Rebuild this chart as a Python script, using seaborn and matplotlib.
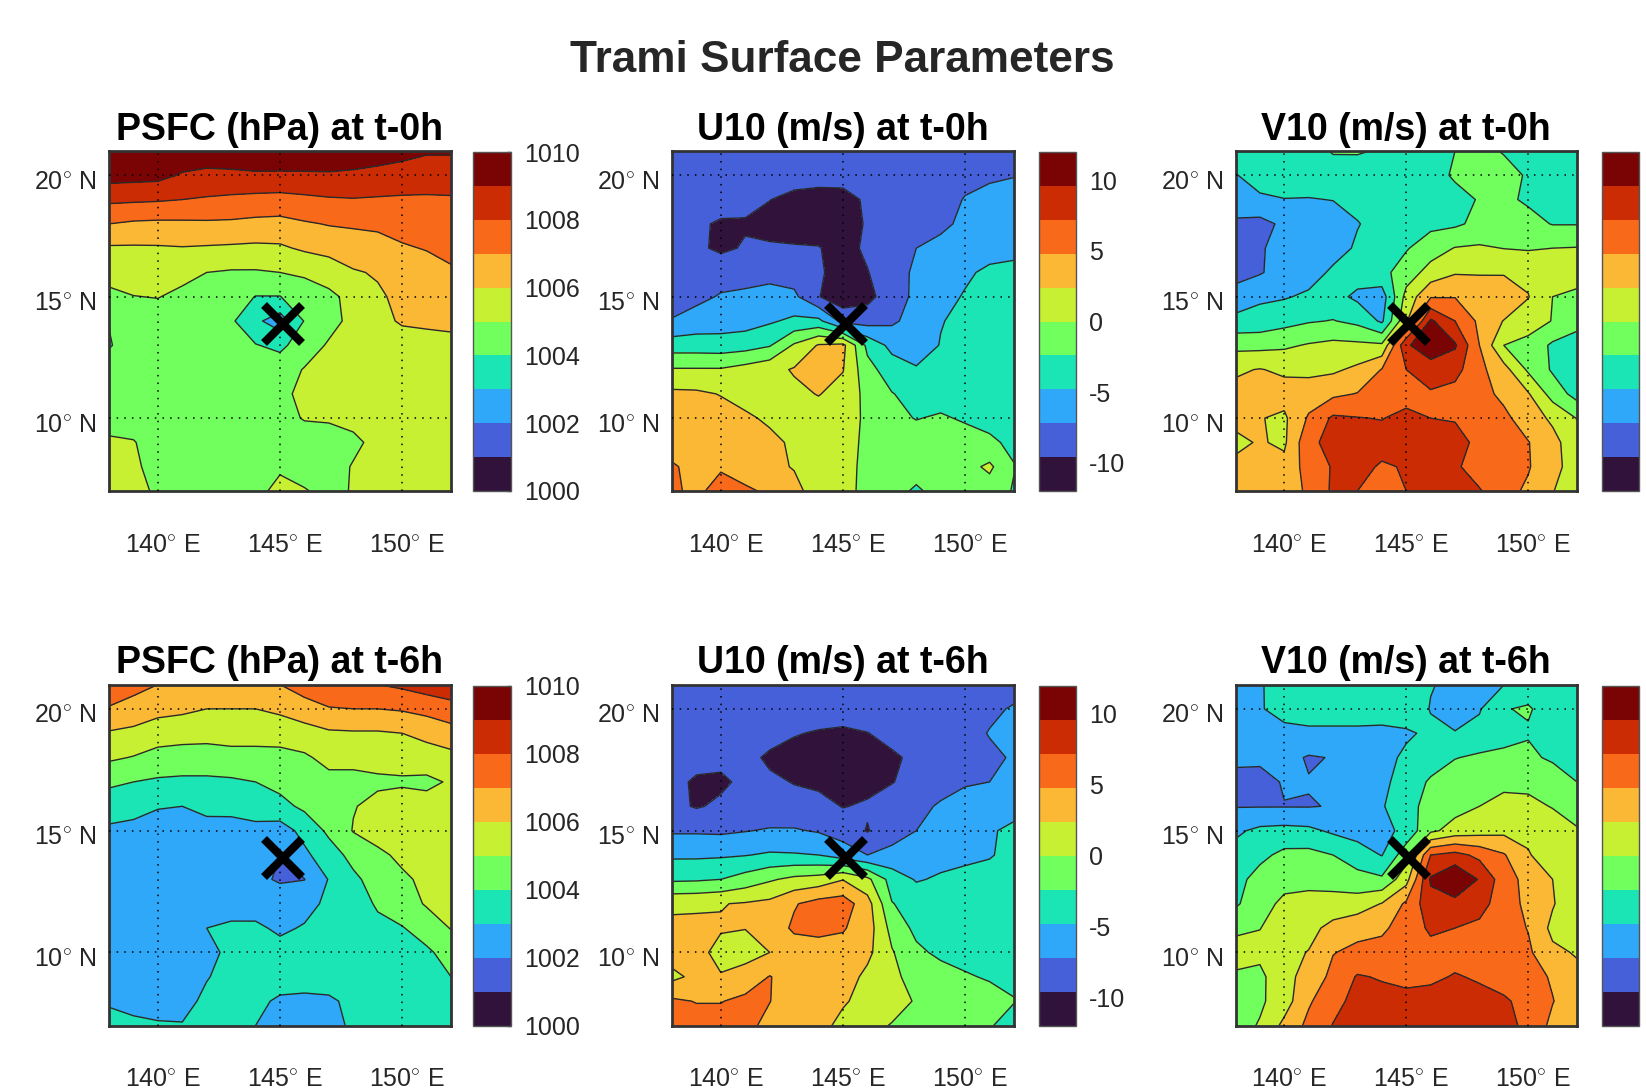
import numpy as np
import seaborn as sns
import matplotlib
matplotlib.use("Agg")
import matplotlib.pyplot as plt
from matplotlib.transforms import ScaledTranslation

# grid of the maps, 1 degree spacing
lons = [138, 139, 140, 141, 142, 143, 144, 145, 146, 147, 148, 149, 150, 151, 152]
lats = [21, 20, 19, 18, 17, 16, 15, 14, 13, 12, 11, 10, 9, 8, 7]

storm_lon = 145.12
storm_lat = 13.88

# values, rows go from 21N down to 7N
# pressure is stored as hPa above 1000
psfc_t0 = [
    [9.9, 9.9, 9.9, 9.7, 9.6, 9.6, 9.6, 9.6, 9.6, 9.6, 9.5, 9.4, 9.3, 9.1, 9.1],
    [9.4, 9.35, 9.3, 8.9, 8.75, 8.8, 8.88, 8.87, 8.88, 8.9, 8.85, 8.75, 8.6, 8.5, 8.5],
    [8.2, 8.15, 8.1, 8.0, 7.9, 7.8, 7.7, 7.65, 7.78, 7.9, 7.95, 7.9, 7.87, 7.87, 7.9],
    [7.0, 6.85, 6.8, 6.82, 6.85, 6.83, 6.74, 6.7, 6.9, 7.05, 7.1, 7.2, 7.35, 7.45, 7.55],
    [5.88, 5.88, 5.9, 5.95, 5.9, 5.85, 5.8, 5.85, 6.15, 6.4, 6.6, 6.6, 6.9, 7.05, 7.3],
    [5.3, 5.4, 5.4, 5.25, 5.0, 4.9, 4.9, 5.0, 5.1, 5.3, 5.9, 6.1, 6.55, 6.6, 6.85],
    [4.8, 4.98, 5.03, 4.8, 4.6, 4.5, 3.97, 3.97, 4.65, 4.85, 5.2, 5.85, 6.25, 6.3, 6.35],
    [4.05, 4.55, 4.6, 4.5, 4.4, 4.15, 3.2, 2.5, 4.05, 4.7, 5.25, 5.75, 6.1, 6.2, 6.25],
    [3.9, 4.6, 4.6, 4.6, 4.5, 4.35, 4.05, 3.75, 4.55, 5.1, 5.3, 5.5, 5.6, 5.6, 5.7],
    [4.6, 4.6, 4.6, 4.6, 4.6, 4.5, 4.5, 4.6, 5.05, 5.3, 5.4, 5.5, 5.5, 5.5, 5.5],
    [4.6, 4.6, 4.6, 4.6, 4.6, 4.6, 4.65, 4.8, 5.2, 5.35, 5.4, 5.4, 5.4, 5.4, 5.4],
    [4.6, 4.6, 4.6, 4.6, 4.6, 4.6, 4.6, 4.75, 5.05, 5.1, 5.2, 5.35, 5.4, 5.4, 5.4],
    [5.15, 5.05, 4.6, 4.6, 4.6, 4.6, 4.6, 4.6, 4.6, 4.6, 4.85, 5.2, 5.4, 5.4, 5.4],
    [5.4, 5.15, 4.7, 4.6, 4.6, 4.6, 4.6, 4.9, 4.7, 4.7, 5.05, 5.4, 5.4, 5.4, 5.4],
    [5.5, 5.2, 4.9, 4.8, 4.9, 4.8, 4.8, 5.2, 5.05, 4.8, 5.05, 5.4, 5.4, 5.4, 5.4],
]
u10_t0 = [
    [-8.0, -8.0, -8.0, -8.0, -8.0, -8.0, -8.0, -8.0, -8.0, -8.0, -8.0, -8.0, -8.0, -8.0, -7.8],
    [-8.0, -8.0, -8.2, -8.3, -8.4, -8.5, -8.6, -8.6, -8.4, -8.2, -8.0, -7.9, -7.7, -7.6, -7.3],
    [-8.0, -8.2, -8.5, -9.0, -9.55, -10.3, -10.6, -10.5, -9.2, -8.5, -8.2, -7.9, -7.1, -6.4, -6.2],
    [-8.2, -9.2, -9.9, -9.8, -10.4, -10.6, -10.6, -10.5, -9.4, -8.6, -8.2, -7.5, -6.9, -6.2, -6.0],
    [-8.3, -9.2, -10.0, -9.4, -9.3, -9.4, -9.5, -10.4, -9.2, -8.4, -7.2, -6.8, -6.3, -5.8, -5.5],
    [-8.2, -8.2, -8.2, -8.2, -8.0, -8.3, -9.3, -10.5, -9.7, -8.2, -6.8, -6.2, -5.2, -4.3, -4.1],
    [-8.6, -7.8, -7.0, -6.7, -6.3, -6.7, -9.5, -11.0, -10.3, -8.3, -6.7, -5.6, -4.6, -4.1, -4.0],
    [-7.0, -6.2, -6.0, -5.8, -5.1, -4.3, -4.2, -8.0, -8.2, -7.6, -6.3, -4.9, -4.3, -4.0, -3.9],
    [-3.6, -3.6, -3.7, -3.4, -2.6, 0.3, 2.6, 3.0, -3.0, -5.5, -5.9, -4.7, -4.0, -3.8, -3.7],
    [0.2, 0.2, 0.2, 0.9, 1.7, 2.6, 3.6, 2.5, -1.6, -3.6, -4.6, -4.2, -3.9, -3.7, -3.6],
    [2.9, 2.8, 2.3, 1.5, 1.6, 1.9, 2.5, 1.6, -0.7, -2.3, -3.2, -3.5, -3.5, -3.5, -3.5],
    [3.5, 3.4, 3.3, 2.8, 2.0, 1.6, 1.4, 1.0, -0.4, -1.8, -2.5, -2.1, -2.7, -3.1, -3.3],
    [3.6, 3.6, 3.7, 3.6, 3.0, 2.0, 1.4, 0.9, -0.5, -1.0, -1.2, -1.2, -1.3, -2.0, -2.9],
    [5.1, 4.0, 4.6, 3.6, 2.8, 2.3, 1.4, 0.8, -0.6, -1.0, -1.0, -0.9, -0.8, 0.45, -2.3],
    [5.1, 4.4, 5.5, 5.2, 4.4, 2.9, 1.6, 0.8, -0.7, -1.2, -2.9, -1.2, -1.0, -1.1, -2.6],
]
v10_t0 = [
    [-3.8, -3.7, -3.6, -3.4, -2.2, -2.2, -2.6, -3.0, -3.0, -2.4, -1.6, -2.6, -3.3, -3.5, -3.6],
    [-4.9, -4.0, -3.8, -3.7, -3.6, -3.5, -3.4, -3.3, -3.0, -2.2, -1.5, -1.4, -2.7, -3.2, -3.4],
    [-5.6, -5.1, -4.85, -4.9, -4.75, -4.2, -3.8, -3.4, -3.2, -2.9, -2.3, -2.0, -2.7, -3.1, -3.3],
    [-7.7, -8.0, -6.7, -6.2, -5.8, -4.9, -4.1, -3.4, -3.0, -2.8, -1.8, -1.6, -1.7, -2.5, -2.5],
    [-7.9, -7.4, -6.5, -6.0, -5.7, -4.5, -3.4, -2.6, -1.1, 0.1, 0.3, -0.05, -0.2, 0.0, 0.1],
    [-8.0, -7.4, -6.2, -5.8, -4.4, -3.7, -3.1, -1.2, 0.9, 2.2, 2.1, 2.1, 1.8, 1.0, 0.8],
    [-6.3, -5.2, -5.0, -4.4, -4.0, -5.3, -6.0, 0.8, 4.6, 4.7, 4.7, 4.6, 2.5, 0.0, -0.4],
    [-4.1, -3.9, -3.2, -2.6, -2.3, -3.0, -5.2, 2.0, 10.0, 7.2, 4.3, 2.3, 1.2, -0.1, -1.3],
    [-0.7, -0.7, -0.4, 0.2, 0.6, 0.5, 0.4, 9.3, 11.0, 9.9, 4.8, 0.0, -0.8, -2.8, -3.9],
    [2.1, 2.5, 2.0, 1.8, 2.0, 2.9, 4.9, 7.2, 8.6, 8.0, 5.4, 3.3, -0.4, -2.7, -3.8],
    [3.0, 3.2, 3.3, 3.6, 4.3, 4.9, 5.7, 6.2, 6.9, 6.4, 5.7, 4.2, 2.6, -1.0, -3.3],
    [3.0, 2.5, 2.0, 5.1, 7.6, 7.3, 7.1, 7.9, 7.2, 7.0, 6.8, 5.4, 3.5, 2.0, -0.1],
    [1.9, 2.6, 2.0, 6.6, 8.0, 8.0, 8.2, 8.5, 8.6, 8.2, 6.5, 5.3, 4.9, 3.1, 1.0],
    [2.9, 3.0, 3.1, 5.8, 7.4, 8.0, 6.9, 7.4, 8.5, 7.6, 6.0, 5.5, 5.0, 3.0, 1.5],
    [2.9, 3.1, 3.6, 5.2, 7.6, 7.2, 6.0, 7.2, 8.2, 7.8, 7.4, 5.6, 4.4, 2.5, 1.0],
]
psfc_t6 = [
    [7.4, 7.3, 7.0, 6.6, 6.5, 6.5, 6.7, 7.0, 7.5, 7.6, 7.7, 8.0, 8.2, 8.5, 8.7],
    [6.95, 6.65, 6.35, 6.2, 6.0, 6.0, 6.0, 6.2, 6.55, 6.95, 7.0, 7.0, 7.1, 7.3, 7.6],
    [5.9, 5.75, 5.4, 5.35, 5.3, 5.35, 5.35, 5.4, 5.6, 5.85, 5.9, 5.9, 6.0, 6.3, 6.6],
    [5.15, 4.95, 4.7, 4.6, 4.6, 4.7, 4.7, 4.7, 4.85, 5.3, 5.2, 5.3, 5.3, 5.5, 5.7],
    [4.2, 4.0, 3.85, 3.8, 3.8, 3.85, 4.0, 4.3, 4.55, 4.7, 4.8, 4.85, 4.9, 4.8, 5.1],
    [3.4, 3.3, 3.05, 3.0, 3.25, 3.3, 3.5, 3.7, 4.2, 4.6, 4.95, 5.25, 5.35, 5.35, 5.4],
    [2.85, 2.75, 2.65, 2.65, 2.65, 2.6, 2.7, 2.55, 3.3, 4.2, 5.05, 5.5, 5.6, 5.6, 5.6],
    [2.5, 2.5, 2.5, 2.5, 2.5, 2.5, 2.5, 2.0, 2.8, 3.55, 4.3, 4.75, 5.25, 5.3, 5.5],
    [2.5, 2.5, 2.5, 2.5, 2.5, 2.5, 2.2, 1.9, 1.98, 3.05, 3.8, 4.4, 4.8, 5.25, 5.5],
    [2.5, 2.5, 2.5, 2.5, 2.5, 2.5, 2.5, 2.5, 2.6, 3.25, 3.6, 4.1, 4.5, 5.1, 5.3],
    [2.5, 2.5, 2.5, 2.5, 3.0, 3.2, 3.2, 2.8, 3.1, 3.5, 3.7, 3.8, 3.95, 4.4, 5.05],
    [2.5, 2.5, 2.5, 2.6, 2.7, 3.25, 3.4, 3.4, 3.4, 3.4, 3.4, 3.5, 3.6, 3.85, 4.35],
    [2.5, 2.5, 2.5, 2.6, 2.95, 3.3, 3.4, 3.3, 3.3, 3.3, 3.3, 3.3, 3.3, 3.4, 4.0],
    [2.9, 2.7, 2.6, 2.7, 3.2, 3.3, 3.15, 2.9, 2.85, 2.9, 3.15, 3.3, 3.3, 3.3, 3.5],
    [3.3, 3.2, 3.1, 3.05, 3.3, 3.3, 3.0, 2.7, 2.7, 2.7, 3.15, 3.3, 3.3, 3.3, 3.4],
]
u10_t6 = [
    [-8.0, -8.0, -8.0, -8.0, -8.0, -8.0, -8.0, -8.0, -8.0, -8.0, -8.0, -8.0, -8.0, -8.0, -8.0],
    [-8.3, -8.3, -8.3, -8.3, -8.3, -8.3, -8.4, -8.5, -8.4, -8.3, -8.3, -8.3, -8.2, -7.6, -7.0],
    [-8.2, -8.4, -8.4, -8.5, -8.7, -9.45, -9.8, -10.0, -9.65, -9.0, -8.4, -8.0, -7.9, -7.1, -5.9],
    [-8.8, -9.1, -9.0, -8.9, -10.0, -10.4, -10.6, -10.7, -10.6, -9.9, -9.2, -8.4, -8.0, -7.6, -7.0],
    [-9.2, -9.8, -10.0, -9.1, -9.2, -9.7, -10.1, -10.6, -10.3, -9.7, -8.8, -8.2, -7.4, -7.2, -7.0],
    [-9.0, -9.8, -9.2, -8.8, -8.7, -8.8, -8.8, -9.7, -9.3, -8.5, -7.9, -6.9, -6.4, -5.9, -5.8],
    [-7.5, -7.5, -7.6, -7.3, -7.0, -7.0, -7.4, -8.2, -9.75, -8.1, -7.2, -6.4, -5.9, -5.1, -4.2],
    [-5.2, -5.2, -5.1, -4.9, -4.5, -4.6, -4.8, -6.0, -7.2, -6.6, -6.0, -5.6, -5.5, -5.0, -4.0],
    [-2.8, -2.7, -2.4, -1.4, -0.3, 0.6, 1.0, 2.3, 0.6, -3.4, -5.0, -4.5, -3.9, -3.8, -3.6],
    [1.9, 2.0, 2.3, 2.6, 3.0, 4.6, 5.7, 6.0, 3.4, -2.3, -3.3, -4.2, -4.8, -3.6, -3.4],
    [3.0, 3.0, 2.6, 2.45, 3.4, 5.2, 5.4, 5.0, 3.6, -0.8, -3.0, -3.5, -3.4, -3.3, -3.2],
    [3.5, 3.1, 1.7, 1.6, 2.4, 3.5, 3.8, 3.9, 3.0, 0.2, -1.9, -2.9, -3.1, -3.2, -3.3],
    [1.8, 3.0, 2.55, 3.3, 4.9, 3.7, 3.8, 3.6, 1.8, 0.5, -0.8, -1.4, -2.2, -2.6, -2.9],
    [5.2, 4.7, 4.7, 5.4, 4.85, 3.7, 3.5, 2.6, 1.8, 1.4, -0.3, -1.2, -1.6, -1.6, -2.3],
    [5.8, 5.8, 5.8, 5.4, 4.2, 3.7, 3.0, 1.9, 1.1, -0.2, -1.1, -1.2, -1.3, -2.2, -3.4],
]
v10_t6 = [
    [-5.2, -5.0, -3.8, -3.7, -3.7, -3.6, -3.6, -3.5, -4.7, -5.2, -5.5, -4.85, -3.4, -3.4, -3.4],
    [-5.8, -5.0, -3.9, -3.6, -3.6, -3.6, -3.6, -3.5, -4.9, -5.7, -5.0, -2.5, -2.2, -3.3, -3.5],
    [-5.8, -5.8, -5.5, -5.3, -5.3, -5.3, -5.4, -5.1, -4.4, -4.7, -4.1, -3.6, -2.6, -3.1, -3.5],
    [-6.3, -6.5, -6.5, -7.4, -7.1, -5.9, -5.5, -4.4, -3.5, -2.5, -2.0, -1.6, -1.9, -2.8, -3.3],
    [-8.5, -8.4, -6.9, -7.1, -6.8, -6.1, -5.4, -3.7, -2.1, -1.0, -0.6, -0.3, -0.5, -0.9, -2.4],
    [-7.3, -7.3, -7.3, -7.3, -7.1, -5.8, -5.0, -3.3, -1.5, -0.8, 0.0, 0.4, 0.5, -0.1, -0.5],
    [-5.2, -4.3, -4.1, -4.3, -5.2, -5.8, -5.7, -4.0, -0.5, 0.9, 1.4, 1.8, 1.8, 1.0, 0.1],
    [-4.0, -3.0, -1.8, -1.7, -2.4, -3.6, -4.9, -1.0, 7.2, 8.0, 6.6, 5.0, 2.6, 1.0, 0.5],
    [-3.2, -1.5, -0.6, -0.6, -0.8, -1.6, -2.0, 1.5, 9.9, 11.9, 9.4, 5.9, 4.0, 2.4, 1.0],
    [-2.8, -0.7, 0.4, 0.7, 0.8, 1.2, 2.5, 5.2, 8.8, 8.8, 8.2, 5.8, 4.3, 2.6, 0.6],
    [-0.4, -0.05, 1.0, 1.6, 3.2, 4.0, 4.4, 5.8, 7.6, 7.2, 6.6, 5.9, 4.7, 1.8, 0.7],
    [0.8, 0.6, 1.7, 2.5, 4.7, 5.4, 5.6, 6.0, 6.4, 6.2, 6.0, 5.9, 5.2, 2.9, 2.2],
    [-0.3, -0.6, 1.8, 3.1, 5.5, 7.4, 7.0, 6.5, 6.7, 7.4, 6.9, 6.3, 5.9, 4.5, 3.0],
    [-0.7, -0.4, 1.3, 4.5, 6.4, 8.0, 8.0, 8.0, 8.2, 8.2, 8.0, 7.5, 6.5, 4.9, 3.2],
    [-1.0, 0.2, 3.0, 5.4, 7.3, 8.2, 8.3, 8.3, 8.3, 8.3, 8.3, 8.0, 6.6, 4.2, 3.0],
]

psfc_levels = [1000, 1001, 1002, 1003, 1004, 1005, 1006, 1007, 1008, 1009, 1010]
wind_levels = [-12, -9.6, -7.2, -4.8, -2.4, 0, 2.4, 4.8, 7.2, 9.6, 12]
psfc_ticks = [1000, 1002, 1004, 1006, 1008, 1010]
wind_ticks = [-10, -5, 0, 5, 10]

x_ticks = [140, 145, 150]
y_ticks = [10, 15, 20]

band_colors = ["#30123B", "#4560D8", "#30A8FA", "#1BE5B5", "#70FF5C",
               "#C8F033", "#FAB834", "#F8691A", "#CB2C03", "#7A0403"]

sns.set_style("white")
plt.rcParams["font.family"] = ["Liberation Sans", "DejaVu Sans"]
plt.rcParams["mathtext.fontset"] = "custom"
plt.rcParams["mathtext.rm"] = "Liberation Sans"
plt.rcParams["axes.unicode_minus"] = False

W, H = 1646, 1090
palette = sns.color_palette(band_colors)


def frac(x0, y0, x1, y1):
    return [x0 / W, 1 - y1 / H, (x1 - x0) / W, (y1 - y0) / H]


def draw_map(fig, box, cbox, z, levels, ticks, title, show_cbar_labels=True):
    ax = fig.add_axes(frac(*box))
    cax = fig.add_axes(frac(*cbox))
    cf = ax.contourf(lons, lats, z, levels=levels, colors=palette)
    ax.contour(lons, lats, z, levels=levels, colors="#2a2a2a", linewidths=1.0, linestyles="solid")
    ax.plot(storm_lon, storm_lat, marker="x", color="k", ms=27, mew=6, zorder=5)
    ax.set_xlim(138, 152)
    ax.set_ylim(7, 21)

    ax.set_xticks(x_ticks)
    ax.set_yticks(y_ticks)
    ax.set_xticklabels([f"{v}$^{{\\circ}}$ E" for v in x_ticks], fontsize=18, color="#262626")
    ax.set_yticklabels([f"{v}$^{{\\circ}}$ N" for v in y_ticks], fontsize=18, color="#262626")
    ax.tick_params(axis="x", length=0, pad=30)
    ax.tick_params(axis="y", length=0, pad=9)
    # labels sit a little off their grid lines in the original
    for lab in ax.get_xticklabels():
        lab.set_transform(lab.get_transform() + ScaledTranslation(5 / 100, 0, fig.dpi_scale_trans))
    for lab in ax.get_yticklabels():
        lab.set_transform(lab.get_transform() + ScaledTranslation(0, -4 / 100, fig.dpi_scale_trans))

    ax.set_axisbelow(False)
    ax.grid(True, ls=(0, (1, 4)), color="k", lw=1.1)
    for sp in ax.spines.values():
        sp.set_color("#333333")
        sp.set_linewidth(2)
    ax.set_title(title, fontsize=27, fontweight="bold", color="k", pad=8)

    cb = fig.colorbar(cf, cax=cax, ticks=ticks)
    cb.outline.set_edgecolor("#555555")
    cb.outline.set_linewidth(1)
    cb.ax.tick_params(direction="in", length=3, width=1, color="#333333", labelsize=18,
                      labelcolor="#262626", pad=9.5, right=True, left=False)
    if not show_cbar_labels:
        cb.ax.set_yticklabels([])


fig = plt.figure(figsize=(W / 100, H / 100), dpi=100)

col_x = [(109, 451), (672, 1014), (1235.5, 1577)]
bar_x = [(473, 511), (1039, 1076), (1602, 1639)]
row_y = [(151, 491), (684.5, 1025.5)]

panels = [
    [(1000 + np.array(psfc_t0), psfc_levels, psfc_ticks, "PSFC (hPa) at t-0h"),
     (u10_t0, wind_levels, wind_ticks, "U10 (m/s) at t-0h"),
     (v10_t0, wind_levels, wind_ticks, "V10 (m/s) at t-0h")],
    [(1000 + np.array(psfc_t6), psfc_levels, psfc_ticks, "PSFC (hPa) at t-6h"),
     (u10_t6, wind_levels, wind_ticks, "U10 (m/s) at t-6h"),
     (v10_t6, wind_levels, wind_ticks, "V10 (m/s) at t-6h")],
]

for r, row in enumerate(panels):
    for c, (z, levels, ticks, title) in enumerate(row):
        box = (col_x[c][0], row_y[r][0], col_x[c][1], row_y[r][1])
        cbox = (bar_x[c][0], row_y[r][0] + 1, bar_x[c][1], row_y[r][1])
        draw_map(fig, box, cbox, np.array(z), levels, ticks, title, show_cbar_labels=c < 2)

fig.text(842 / W, 1 - 61 / H, "Trami Surface Parameters", fontsize=31.8, fontweight="bold",
         color="#262626", ha="center", va="center")

fig.savefig("out.png", dpi=100, facecolor="white")
